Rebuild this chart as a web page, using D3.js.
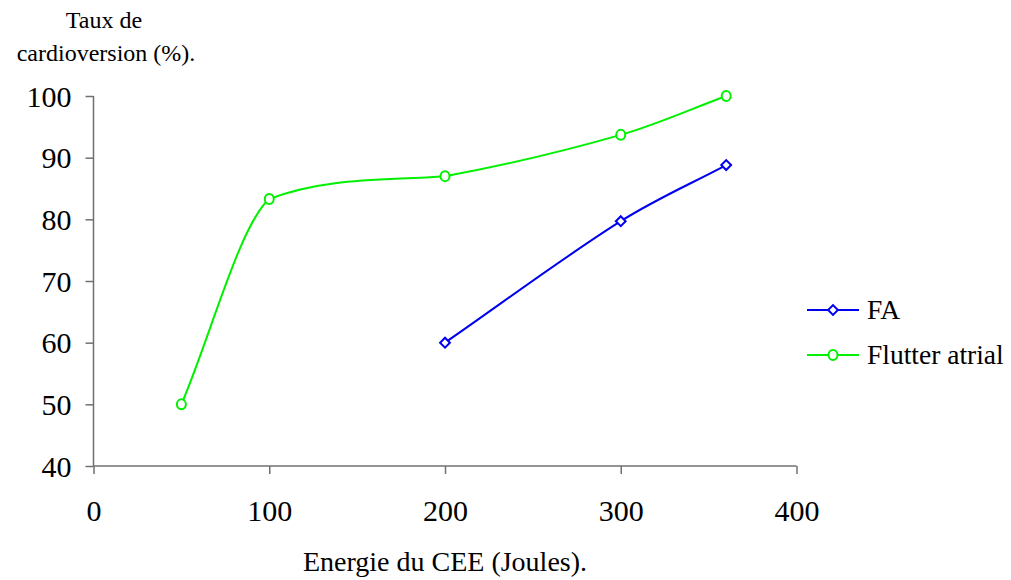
<!DOCTYPE html>
<html>
<head>
<meta charset="utf-8">
<script src="https://cdn.jsdelivr.net/npm/d3@7"></script>
<style>
  html, body { margin: 0; padding: 0; background: #fff; }
  svg { display: block; font-family: "Liberation Serif", "Times New Roman", serif; }
</style>
</head>
<body>
<svg id="chart" width="1011" height="580"></svg>
<script>
// Energy of the shock (J) and conversion rate (%) per arrhythmia
const energyFA = [200, 300, 360];
const rateFA = [60, 79.7, 88.8];
const energyFlutter = [50, 100, 200, 300, 360];
const rateFlutter = [50, 83.3, 87, 93.7, 100];
const seriesNames = ["FA", "Flutter atrial"];
const xTicks = [0, 100, 200, 300, 400];
const yTicks = [40, 50, 60, 70, 80, 90, 100];

const svg = d3.select("#chart");
const x = d3.scaleLinear().domain([0, 400]).range([93.5, 796.5]);
const y = d3.scaleLinear().domain([40, 100]).range([466, 96]);

const axisColor = "#707070";
const blue = "#0000f0";
const green = "#00f000";

// Smooth Hermite curve with per-segment Fritsch–Carlson tangent limiting
function curveSmooth(context) {
  return {
    areaStart() {}, areaEnd() {},
    lineStart() { this._x = []; this._y = []; },
    point(px, py) { this._x.push(+px); this._y.push(+py); },
    lineEnd() {
      const xs = this._x, ys = this._y, n = xs.length;
      if (!n) return;
      context.moveTo(xs[0], ys[0]);
      if (n === 1) return;
      const m = xs.map((_, i) =>
        i === 0 ? (ys[1] - ys[0]) / (xs[1] - xs[0])
        : i === n - 1 ? (ys[n - 1] - ys[n - 2]) / (xs[n - 1] - xs[n - 2])
        : (ys[i + 1] - ys[i - 1]) / (xs[i + 1] - xs[i - 1]));
      for (let i = 0; i < n - 1; i++) {
        const h = xs[i + 1] - xs[i], d = (ys[i + 1] - ys[i]) / h;
        let m0 = m[i], m1 = m[i + 1];
        if (d === 0) { m0 = m1 = 0; }
        else {
          const a = m0 / d, b = m1 / d, s = a * a + b * b;
          if (s > 9) { const t = 3 / Math.sqrt(s); m0 = t * a * d; m1 = t * b * d; }
        }
        context.bezierCurveTo(xs[i] + h / 3, ys[i] + m0 * h / 3,
                              xs[i + 1] - h / 3, ys[i + 1] - m1 * h / 3,
                              xs[i + 1], ys[i + 1]);
      }
    }
  };
}

// Axes
const xAxis = svg.append("g").attr("transform", `translate(0,${y(40)})`)
  .call(d3.axisBottom(x).tickValues(xTicks).tickSize(8).tickPadding(20).tickFormat(d3.format("d")));
const yAxis = svg.append("g").attr("transform", `translate(${x(0)},0)`)
  .call(d3.axisLeft(y).tickValues(yTicks).tickSize(8).tickPadding(14).tickFormat(d3.format("d")));
[xAxis, yAxis].forEach(g => {
  g.select(".domain").attr("stroke", axisColor).attr("stroke-width", 1.5);
  g.selectAll(".tick line").attr("stroke", axisColor).attr("stroke-width", 1.5);
  g.selectAll(".tick text").attr("fill", "#000").style("font-size", "30px")
    .style("font-family", '"Liberation Serif", serif');
});
xAxis.select(".domain").attr("d", `M${x(0)},0H${x(400)}`);
yAxis.select(".domain").attr("d", `M0,${y(40)}V${y(100)}`);
yAxis.selectAll(".tick text").attr("dy", "0.34em");
xAxis.selectAll(".tick text").attr("dy", "0.9em");

// Axis titles
svg.append("text").attr("x", 445).attr("y", 571).attr("text-anchor", "middle")
  .style("font-size", "28px").text("Energie du CEE (Joules).");
const yt = svg.append("text").attr("text-anchor", "middle").style("font-size", "24px");
yt.append("tspan").attr("x", 104).attr("y", 28).text("Taux de");
yt.append("tspan").attr("x", 106).attr("y", 61).text("cardioversion (%).");

const line = d3.line().curve(curveSmooth).x(d => x(d[0])).y(d => y(d[1]));
const faPts = energyFA.map((e, i) => [e, rateFA[i]]);
const flPts = energyFlutter.map((e, i) => [e, rateFlutter[i]]);

svg.append("path").datum(flPts).attr("d", line).attr("fill", "none")
  .attr("stroke", green).attr("stroke-width", 2);
svg.append("path").datum(faPts).attr("d", line).attr("fill", "none")
  .attr("stroke", blue).attr("stroke-width", 2);

const diamond = d3.symbol().type(d3.symbolSquare).size(48);
function drawDiamond(g, cx, cy) {
  g.append("path").attr("d", diamond())
    .attr("transform", `translate(${cx},${cy}) rotate(45)`)
    .attr("fill", "#fff").attr("stroke", blue).attr("stroke-width", 2);
}
function drawCircle(g, cx, cy) {
  g.append("ellipse").attr("cx", cx).attr("cy", cy).attr("rx", 4.5).attr("ry", 5)
    .attr("fill", "#fff").attr("stroke", green).attr("stroke-width", 2);
}
const marks = svg.append("g");
flPts.forEach(d => drawCircle(marks, x(d[0]), y(d[1])));
faPts.forEach(d => drawDiamond(marks, x(d[0]), y(d[1])));

// Legend
const legend = svg.append("g");
const legendRows = [
  { name: seriesNames[0], color: blue, draw: drawDiamond, ly: 310 },
  { name: seriesNames[1], color: green, draw: drawCircle, ly: 355 }
];
legendRows.forEach(r => {
  legend.append("line").attr("x1", 807).attr("x2", 859).attr("y1", r.ly).attr("y2", r.ly)
    .attr("stroke", r.color).attr("stroke-width", 2);
  r.draw(legend, 833, r.ly);
  legend.append("text").attr("x", 867).attr("y", r.ly + 9).style("font-size", "27.5px").text(r.name);
});
</script>
</body>
</html>
